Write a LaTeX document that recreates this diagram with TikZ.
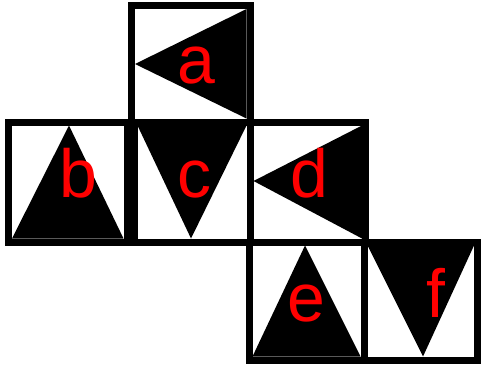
\documentclass[tikz,border=0pt]{standalone}
\usepackage{fontspec}
\setmainfont{Liberation Sans}
\begin{document}
\begin{tikzpicture}[x=1pt,y=-1pt,
  face/.style={draw=black,line width=7pt,fill=white},
  tri/.style={fill=black},
  lbl/.style={text=red,anchor=base,inner sep=0pt,font=\fontsize{68}{68}\selectfont}]
\useasboundingbox (0,0) rectangle (481,365);
% squares
\draw[face] (131.5,5.5) rectangle (250,122);
\draw[face] (8.5,122) rectangle (127,242);
\draw[face] (134,122) rectangle (250,242);
\draw[face] (250,122) rectangle (365.5,242);
\draw[face] (249,242) rectangle (364,360);
\draw[face] (364,242) rectangle (477.5,360);
% triangles
\fill[tri] (246.5,9) -- (135,64) -- (246.5,118.5) -- cycle;
\fill[tri] (69,125.5) -- (123.5,238.5) -- (12,238.5) -- cycle;
\fill[tri] (137.5,125.5) -- (246.5,125.5) -- (191,238.5) -- cycle;
\fill[tri] (362,125.5) -- (253.5,181) -- (362,238.5) -- cycle;
\fill[tri] (305,245.5) -- (360.5,356.5) -- (252.5,356.5) -- cycle;
\fill[tri] (367.5,245.5) -- (474,245.5) -- (423,356.5) -- cycle;
% labels
\node[lbl] (la) at (196,83) {a};
\node[lbl] (lb) at (78,197) {b};
\node[lbl] (lc) at (194,197) {c};
\node[lbl] (ld) at (309,197) {d};
\node[lbl] (le) at (306,321) {e};
\node[lbl] (lf) at (436,317) {f};
\end{tikzpicture}
\end{document}
